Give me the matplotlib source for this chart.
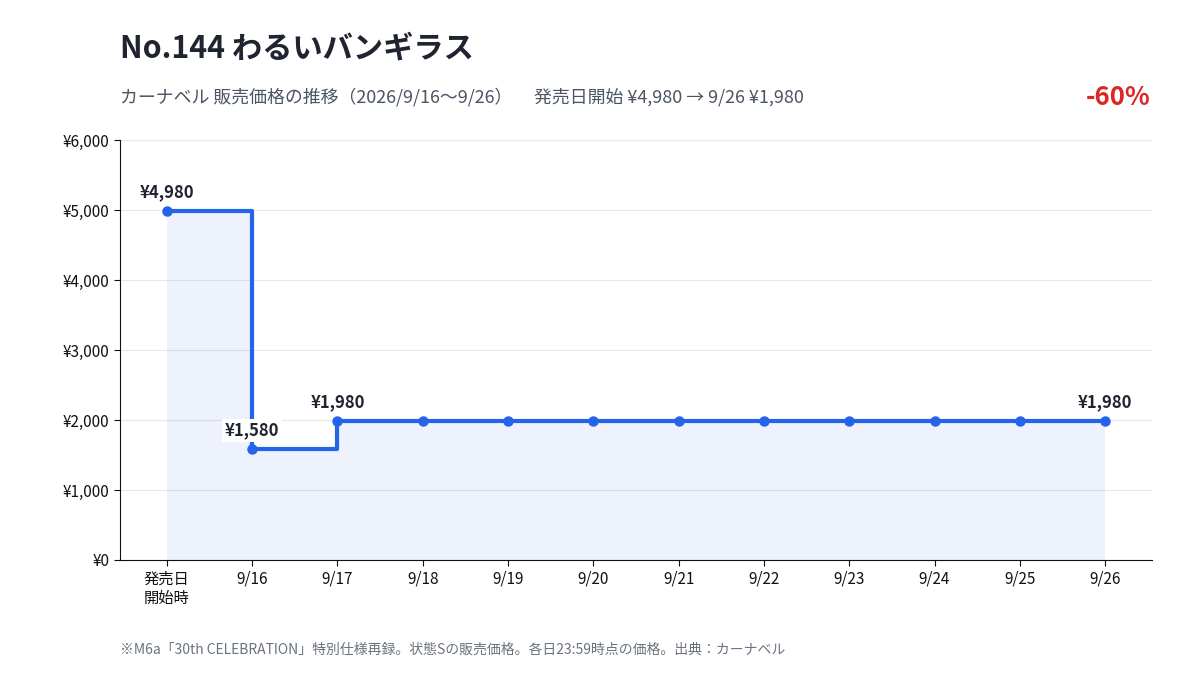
import matplotlib
matplotlib.use("Agg")
import matplotlib.pyplot as plt
import numpy as np

plt.rcParams['font.family'] = ['Noto Sans CJK JP', 'DejaVu Sans']

labels = ["発売日\n開始時", "9/16", "9/17", "9/18", "9/19", "9/20", "9/21", "9/22", "9/23", "9/24", "9/25", "9/26"]
prices = [4980, 1580, 1980, 1980, 1980, 1980, 1980, 1980, 1980, 1980, 1980, 1980]
annotated = [0, 1, 2, 11]
yticks = [0, 1000, 2000, 3000, 4000, 5000, 6000]

blue = "#2563EB"
fig = plt.figure(figsize=(12, 6.75), dpi=100)
ax = fig.add_axes([0.1, 0.1704, 0.86, 0.6222])

x = np.arange(len(prices))
ax.fill_between(x, prices, step="post", color=blue, alpha=0.08, linewidth=0)
ax.step(x, prices, where="post", color=blue, linewidth=3, zorder=3)
ax.plot(x, prices, "o", color=blue, markersize=6.5, zorder=4, linestyle="none")

for i in annotated:
    if i == 1:
        ax.annotate(f"¥{prices[i]:,}", (x[i], prices[i]), xytext=(0, 7), textcoords="offset points",
                    ha="center", va="bottom", fontsize=12, fontweight="bold", color="#1f2430",
                    bbox=dict(boxstyle="square,pad=0.15", fc="white", ec="none"), zorder=5)
    else:
        ax.annotate(f"¥{prices[i]:,}", (x[i], prices[i]), xytext=(0, 7), textcoords="offset points",
                    ha="center", va="bottom", fontsize=12, fontweight="bold", color="#1f2430", zorder=5)

ax.set_xlim(-0.55, len(prices) - 1 + 0.55)
ax.set_ylim(0, 6000)
ax.set_yticks(yticks)
ax.set_yticklabels([f"¥{v:,}" for v in yticks])
ax.set_xticks(x)
ax.set_xticklabels(labels)
ax.tick_params(labelsize=11, colors="#111111", length=4)
ax.grid(axis="y", color="#e5e7eb", linewidth=0.8)
ax.set_axisbelow(True)
for s in ["top", "right"]:
    ax.spines[s].set_visible(False)
for s in ["left", "bottom"]:
    ax.spines[s].set_color("#111111")

fig.text(0.1, 0.928, "No.144 わるいバンギラス", fontsize=21.8, fontweight="bold", color="#1f2430", va="center", ha="left")
fig.text(0.1, 0.856, "カーナベル 販売価格の推移（2026/9/16〜9/26）",
         fontsize=12.9, color="#4b5563", va="center", ha="left")
fig.text(0.445, 0.856, "発売日開始 ¥4,980 → 9/26 ¥1,980",
         fontsize=12.9, color="#4b5563", va="center", ha="left")
fig.text(0.959, 0.856, "-60%", fontsize=18.5, fontweight="bold", color="#dc2626", va="center", ha="right")
fig.text(0.1, 0.037, "※M6a「30th CELEBRATION」特別仕様再録。状態Sの販売価格。各日23:59時点の価格。出典：カーナベル",
         fontsize=10, color="#6b7280", va="center", ha="left")

fig.savefig("out.png", dpi=100)
